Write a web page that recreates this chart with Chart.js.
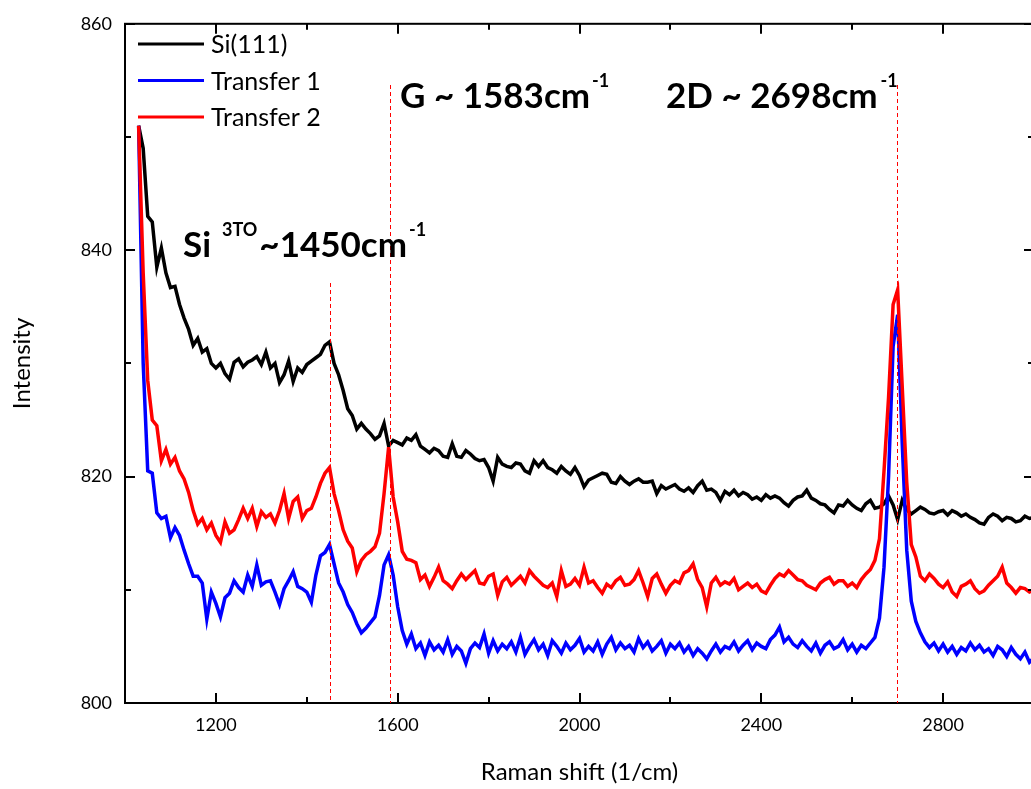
<!DOCTYPE html>
<html>
<head>
<meta charset="utf-8">
<script src="https://cdn.jsdelivr.net/npm/chart.js@4.4.0/dist/chart.umd.min.js"></script>
<style>
  html, body { margin: 0; padding: 0; background: #fff; overflow: hidden; }
  #wrap { position: absolute; left: 0; top: 0; width: 1045px; height: 789px; }
</style>
</head>
<body>
<div id="wrap"><canvas id="raman"></canvas></div>
<script>
// Raman shift sampling (1/cm)
const wavenumbers = [
  1030,1040,1050,1060,1070,1080,1090,1100,
  1110,1120,1130,1140,1150,1160,1170,1180,1190,1200,
  1210,1220,1230,1240,1250,1260,1270,1280,1290,1300,
  1310,1320,1330,1340,1350,1360,1370,1380,1390,1400,
  1410,1420,1430,1440,1450,1460,1470,1480,1490,1500,
  1510,1520,1530,1540,1550,1560,1570,1580,1590,1600,
  1610,1620,1630,1640,1650,1660,1670,1680,1690,1700,
  1710,1720,1730,1740,1750,1760,1770,1780,1790,1800,
  1810,1820,1830,1840,1850,1860,1870,1880,1890,1900,
  1910,1920,1930,1940,1950,1960,1970,1980,1990,2000,
  2010,2020,2030,2040,2050,2060,2070,2080,2090,2100,
  2110,2120,2130,2140,2150,2160,2170,2180,2190,2200,
  2210,2220,2230,2240,2250,2260,2270,2280,2290,2300,
  2310,2320,2330,2340,2350,2360,2370,2380,2390,2400,
  2410,2420,2430,2440,2450,2460,2470,2480,2490,2500,
  2510,2520,2530,2540,2550,2560,2570,2580,2590,2600,
  2610,2620,2630,2640,2650,2660,2670,2680,2690,2700,
  2710,2720,2730,2740,2750,2760,2770,2780,2790,2800,
  2810,2820,2830,2840,2850,2860,2870,2880,2890,2900,
  2910,2920,2930,2940,2950,2960,2970,2980,2990,3000
];

// Intensity of the bare Si(111) substrate
const si111 = [
  851,849,843,842.5,838.5,840.2,838,836.7,
  836.8,835.2,834,833,831.6,832.2,831,831.3,830,829.6,
  830,829.1,828.6,830.1,830.4,829.7,830.1,830.3,830.6,829.9,
  831,829.6,830,828.3,829,830.2,828.4,829.6,829.2,829.9,
  830.2,830.5,830.8,831.6,831.9,830,829,827.6,826,825.4,
  824.2,824.7,824.2,823.8,823.3,823.6,824.7,822.7,823.2,823,
  822.8,823.4,823.2,823.7,822.7,822.4,822.1,822.5,822.3,821.8,
  821.7,822.9,821.8,821.7,822.3,822,821.6,821.4,821.5,820.8,
  819.6,821.7,821.1,820.9,820.8,821.2,821.1,820.5,820.3,821.4,
  820.9,821.4,820.8,820.6,820.3,820.9,820.5,820.2,820.8,820.1,
  819.1,819.7,819.9,820.1,820.3,820.2,819.5,819.4,820,819.6,
  819.3,819.6,819.8,819.5,819.5,819.6,818.5,819.2,818.9,819.1,
  819.3,818.9,818.7,819,818.6,819.2,819.6,818.8,818.9,818.6,
  817.9,818.7,818.4,818.8,818.3,818.6,818.4,818,818.2,817.9,
  818.4,818.1,818.3,818.1,817.7,817.4,817.9,818.2,818.3,818.8,
  818.1,817.9,817.6,817.5,817.1,816.8,817.5,817.4,817.9,817.5,
  817.2,817,817.6,817.9,817.2,817.3,817.6,818.3,817.5,816.2,
  817.9,817.1,816.7,817,817.3,817.1,816.8,816.7,816.9,817,
  816.6,817,816.8,816.5,816.7,816.4,816.2,815.9,815.8,816.4,
  816.7,816.5,816.1,816.4,816.3,816,816.1,816.5,816.3,816.4
];

// Intensity after the first graphene transfer
const transfer1 = [
  851,830,820.5,820.3,816.8,816.3,816.5,814.6,
  815.5,814.8,813.5,812.3,811.2,811.2,810.6,807.4,809.8,808.8,
  807.6,809.3,809.7,810.8,810.2,809.8,811.3,810.3,812.2,810.4,
  810.7,810.8,809.8,808.7,810.1,810.8,811.6,810.3,810.1,809.8,
  808.9,811.3,813,813.3,814,812.3,810.6,809.8,808.7,808,
  807,806.2,806.6,807.1,807.6,809.5,812.2,813.1,811.3,808.5,
  806.4,805.2,806.1,804.8,805.3,804.2,805.4,804.7,805.1,804.5,
  805.6,804.3,805,804.6,803.5,804.8,805.3,804.9,806.1,804.4,
  805.5,804.6,805.2,804.8,805.4,804.5,805.8,804.3,805,805.6,
  804.7,805.2,804.2,805.5,805,804.4,805.3,804.7,805.1,805.7,
  804.5,805,804.6,805.4,804.3,805.2,805.8,804.7,805.3,804.8,
  805.1,804.5,805.7,804.9,805.4,804.6,805,805.5,804.4,805.2,
  804.8,805.3,804.5,805,804.2,804.8,804.4,803.9,804.6,805.2,
  804.5,805,804.8,805.4,804.6,805.1,805.5,804.7,805.3,805,
  804.8,805.6,806,806.7,805.4,805.8,805.2,804.9,805.5,805,
  804.6,805.3,804.4,805.1,805.4,804.8,805,805.6,804.7,805.2,
  804.5,805.1,804.8,805.3,805.8,807.5,812,820,831.5,834.3,
  823,813.5,809,807.2,806.2,805.4,804.9,805.3,804.6,805.2,
  804.5,805,804.3,804.9,804.6,805.3,804.7,805.1,804.5,804.8,
  804.2,805,804.7,804.1,804.9,804.3,803.9,804.5,803.6,804
];

// Intensity after the second graphene transfer
const transfer2 = [
  851,838,828.5,825,824.5,821.4,822.4,821.1,
  821.7,820.5,819.8,818.6,817,815.8,816.3,815.3,815.9,814.8,
  814.2,816,815,815.3,816.2,817.2,816.3,817.2,815.6,816.9,
  816.4,816.7,815.9,817,818.5,816.3,817.8,818.2,816.3,817,
  817.2,818.2,819.4,820.3,820.8,818.5,817,815.3,814.3,813.7,
  811.6,812.6,813.1,813.4,813.8,815,818.5,822.6,818.2,816,
  813.4,812.7,812.6,812.4,810.9,811.3,810.3,811.1,812,810.8,
  810.5,810.1,810.8,811.4,810.9,811.3,811.7,810.6,810.5,811.2,
  811.4,809.5,810.7,811.1,810.4,810.8,811.2,810.6,811.7,811.2,
  810.8,810.4,810.2,810.6,809.4,811.7,810.3,810.5,811,810.4,
  812,810.6,810.8,810.2,809.7,810.5,810.2,810.8,811.1,810.4,
  810.5,810.9,811.7,810.6,809.4,811,811.4,810.5,809.7,810.4,
  810.8,810.6,811.5,811.7,812.3,810.9,810.2,808.5,810.6,811.1,
  810.4,810.7,810.5,811,810,810.3,810.6,810.2,810.5,809.9,
  809.7,810.4,811,811.4,811.2,811.7,811.3,810.9,810.8,810.4,
  810.2,810,810.6,810.9,811.1,810.5,810.8,810.8,810.3,810.6,
  810.2,810.9,811.4,811.8,812.6,814.5,820.5,827,835.2,836.5,
  828,819.5,814,812.9,811.2,810.8,811.4,811,810.5,810.2,
  810.7,809.8,809.4,810.3,810.5,810.8,810.1,809.7,809.9,810.4,
  810.8,811.2,812,810.6,810.2,809.7,810.2,810.1,809.8,810
];

const seriesNames = ['Si(111)', 'Transfer 1', 'Transfer 2'];
const seriesColors = ['#000000', '#0000ff', '#ff0000'];

// Peak positions (1/cm) marked with dashed guides
const siPeak = 1450;
const gPeak = 1583;
const twoDPeak = 2698;

const xRange = [1000, 3000];
const yRange = [800, 860];
const xStep = 200, xLabelStep = 400;
const yStep = 10, yLabelStep = 20;

const FONT = 'Lato, "Open Sans", sans-serif';

function toPoints(values) {
  return values.map((v, i) => ({ x: wavenumbers[i], y: v }));
}

// Closed frame with inward ticks on all four sides
const framePlugin = {
  id: 'frame',
  afterDatasetsDraw(chart) {
    const { ctx, chartArea: a, scales: { x, y } } = chart;
    ctx.save();
    ctx.strokeStyle = '#000';
    ctx.lineWidth = 2;
    ctx.strokeRect(a.left, a.top, a.right - a.left, a.bottom - a.top);
    ctx.beginPath();
    x.ticks.forEach(t => {
      const px = Math.round(x.getPixelForValue(t.value));
      const len = t.value % xLabelStep === 0 ? 10 : 6;
      ctx.moveTo(px, a.bottom); ctx.lineTo(px, a.bottom - len);
      ctx.moveTo(px, a.top); ctx.lineTo(px, a.top + len);
    });
    y.ticks.forEach(t => {
      const py = Math.round(y.getPixelForValue(t.value));
      const len = t.value % yLabelStep === 0 ? 10 : 6;
      ctx.moveTo(a.left, py); ctx.lineTo(a.left + len, py);
      ctx.moveTo(a.right, py); ctx.lineTo(a.right - len, py);
    });
    ctx.stroke();
    ctx.restore();
  }
};

// Dashed peak guides and their bold captions
function drawRich(ctx, x, baseline, parts) {
  parts.forEach(p => {
    x += p.gap || 0;
    ctx.font = `bold ${p.size}px ${FONT}`;
    ctx.fillText(p.text, x, baseline - (p.rise || 0));
    x += ctx.measureText(p.text).width;
  });
}

const peakPlugin = {
  id: 'peaks',
  afterDatasetsDraw(chart) {
    const { ctx, chartArea: a, scales: { x } } = chart;
    ctx.save();
    ctx.strokeStyle = '#ff0000';
    ctx.lineWidth = 1;
    ctx.setLineDash([4, 3]);
    const guides = [[siPeak, 283], [gPeak, 85], [twoDPeak, 85]];
    guides.forEach(([pos, top]) => {
      const px = Math.round(x.getPixelForValue(pos)) + 0.5;
      ctx.beginPath();
      ctx.moveTo(px, top);
      ctx.lineTo(px, a.bottom);
      ctx.stroke();
    });
    ctx.setLineDash([]);

    ctx.fillStyle = '#000';
    ctx.textBaseline = 'alphabetic';
    ctx.textAlign = 'left';
    drawRich(ctx, 183, 257, [
      { text: 'Si', size: 35 },
      { text: '3TO', size: 18, gap: 11, rise: 21 },
      { text: '~' + siPeak + 'cm', size: 35, gap: 2 },
      { text: '-1', size: 18, gap: 2, rise: 21 }
    ]);
    drawRich(ctx, 400, 108, [
      { text: 'G ~ ' + gPeak + 'cm', size: 35 },
      { text: '-1', size: 18, gap: 2, rise: 21 }
    ]);
    drawRich(ctx, 666, 108, [
      { text: '2D ~ ' + twoDPeak + 'cm', size: 35 },
      { text: '-1', size: 18, gap: 3, rise: 21 }
    ]);
    ctx.restore();
  }
};

// Legend in the upper-left corner of the plot
const legendPlugin = {
  id: 'cornerLegend',
  afterDatasetsDraw(chart) {
    const { ctx } = chart;
    ctx.save();
    chart.data.datasets.forEach((ds, i) => {
      const yMid = 44 + i * 36.5;
      ctx.strokeStyle = ds.borderColor;
      ctx.lineWidth = 3;
      ctx.beginPath();
      ctx.moveTo(138, yMid);
      ctx.lineTo(204, yMid);
      ctx.stroke();
      ctx.fillStyle = '#000';
      ctx.font = `25px ${FONT}`;
      ctx.textBaseline = 'middle';
      ctx.textAlign = 'left';
      ctx.fillText(ds.label, 211, yMid + 1);
    });
    ctx.restore();
  }
};

const allSeries = [si111, transfer1, transfer2];

new Chart(document.getElementById('raman'), {
  type: 'line',
  data: {
    datasets: allSeries.map((vals, i) => ({
      label: seriesNames[i],
      data: toPoints(vals),
      borderColor: seriesColors[i],
      backgroundColor: seriesColors[i],
      borderWidth: 3.5,
      pointRadius: 0,
      tension: 0,
      fill: false,
      order: 3 - i
    }))
  },
  options: {
    responsive: true,
    maintainAspectRatio: false,
    animation: false,
    events: [],
    layout: { padding: { top: 22, right: 5, left: 0, bottom: 0 } },
    plugins: {
      legend: { display: false },
      tooltip: { enabled: false }
    },
    scales: {
      x: {
        type: 'linear',
        min: xRange[0],
        max: xRange[1],
        grid: { display: false, drawTicks: false },
        border: { display: false },
        ticks: {
          stepSize: xStep,
          padding: 11,
          color: '#000',
          font: { family: FONT, size: 18 },
          maxRotation: 0,
          autoSkip: false,
          callback: v => (v % xLabelStep === 0 ? String(v) : '')
        },
        title: {
          display: true,
          text: 'Raman shift (1/cm)',
          color: '#000',
          font: { family: FONT, size: 24, lineHeight: 1.2 },
          padding: { top: 0, bottom: 2 }
        },
        afterFit: s => { s.height = 86; }
      },
      y: {
        type: 'linear',
        min: yRange[0],
        max: yRange[1],
        grid: { display: false, drawTicks: false },
        border: { display: false },
        ticks: {
          stepSize: yStep,
          padding: 13,
          color: '#000',
          font: { family: FONT, size: 18 },
          autoSkip: false,
          callback: v => (v % yLabelStep === 0 ? String(v) : '')
        },
        title: {
          display: true,
          text: 'Intensity',
          color: '#000',
          font: { family: FONT, size: 24, lineHeight: 1.2 },
          padding: { top: 8, bottom: 0 }
        },
        afterFit: s => { s.width = 125; }
      }
    }
  },
  plugins: [framePlugin, peakPlugin, legendPlugin]
});
</script>
</body>
</html>
